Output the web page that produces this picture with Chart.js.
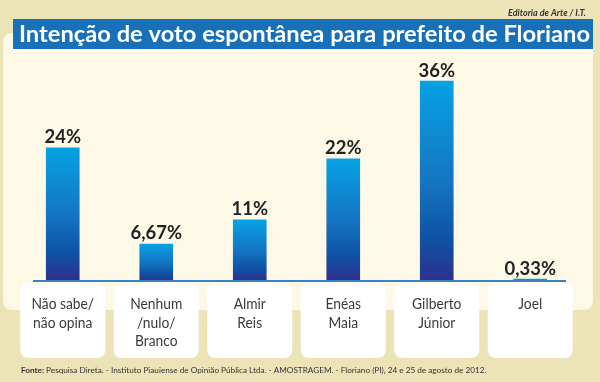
<!DOCTYPE html>
<html><head><meta charset="utf-8">
<script src="https://cdn.jsdelivr.net/npm/chart.js@4/dist/chart.umd.min.js"></script>
<style>html,body{margin:0;padding:0;background:#ece3b7;}canvas{display:block;}</style>
</head><body>
<canvas id="c" width="600" height="382"></canvas>
<script>
const categories = [["Não sabe/","não opina"],["Nenhum","/nulo/","Branco"],["Almir","Reis"],["Enéas","Maia"],["Gilberto","Júnior"],["Joel"]];
const values = [24, 6.67, 11, 22, 36, 0.33];
const valueLabels = ["24%","6,67%","11%","22%","36%","0,33%"];
const titleText = "Intenção de voto espontânea para prefeito de Floriano";
const bylineText = "Editoria de Arte / I.T.";
const sourceBold = "Fonte:";
const sourceText = " Pesquisa Direta. - Instituto Piauiense de Opinião Pública Ltda. - AMOSTRAGEM. - Floriano (PI), 24 e 25 de agosto de 2012.";

function rr(ctx,x,y,w,h,r){ctx.beginPath();ctx.moveTo(x+r,y);ctx.lineTo(x+w-r,y);ctx.quadraticCurveTo(x+w,y,x+w,y+r);ctx.lineTo(x+w,y+h-r);ctx.quadraticCurveTo(x+w,y+h,x+w-r,y+h);ctx.lineTo(x+r,y+h);ctx.quadraticCurveTo(x,y+h,x,y+h-r);ctx.lineTo(x,y+r);ctx.quadraticCurveTo(x,y,x+r,y);ctx.closePath();}
function condText(ctx,t,x,y,sx){ctx.save();ctx.translate(x,y);ctx.scale(sx,1);ctx.fillText(t,0,0);ctx.restore();}

const decor = {
  id:'decor',
  beforeDraw(chart){
    const ctx=chart.ctx, xs=chart.scales.x;
    ctx.save();
    ctx.fillStyle='#ece3b7';ctx.fillRect(0,0,600,382);
    ctx.fillStyle='#fdf9e6';rr(ctx,3,33,590,277,10);ctx.fill();
    ctx.fillStyle='#1770b8';ctx.fillRect(13,19,580,30);
    ctx.fillStyle='#ffffff';ctx.textBaseline='alphabetic';ctx.textAlign='left';
    ctx.font='bold 23.5px Lato';
    const tw=ctx.measureText(titleText).width;
    condText(ctx,titleText,19,41.5,571/tw);
    ctx.fillStyle='#333333';ctx.textAlign='right';
    ctx.font='italic bold 9px Lato';ctx.fillText(bylineText,586,16);
    categories.forEach((lines,i)=>{
      const cx=xs.getPixelForValue(i);
      ctx.fillStyle='#ffffff';rr(ctx,cx-42.5,283,85,75,9);ctx.fill();
      ctx.fillStyle='#3a3a3a';ctx.textAlign='center';ctx.font='15.5px Lato';
      lines.forEach((l,j)=>condText(ctx,l,cx,309+j*18.7,0.89));
    });
    ctx.textAlign='left';
    ctx.font='bold 8px Lato';const wb=ctx.measureText(sourceBold).width;
    ctx.font='8px Lato';const wr=ctx.measureText(sourceText).width;
    const fs=8*466/(wb+wr);
    ctx.fillStyle='#333333';
    ctx.font='bold '+fs+'px Lato';ctx.fillText(sourceBold,21,373);
    const w1=ctx.measureText(sourceBold).width;
    ctx.font=fs+'px Lato';ctx.fillText(sourceText,21+w1,373);
    ctx.restore();
  },
  afterDatasetsDraw(chart){
    const ctx=chart.ctx, xs=chart.scales.x, ys=chart.scales.y;
    ctx.save();
    const y0=ys.getPixelForValue(0);
    ctx.strokeStyle='#3a82c4';ctx.lineWidth=2;
    ctx.beginPath();ctx.moveTo(33,y0);ctx.lineTo(566,y0);ctx.stroke();
    ctx.fillStyle='#222222';ctx.textAlign='center';ctx.textBaseline='alphabetic';
    ctx.font='bold 19px Lato';
    values.forEach((v,i)=>{
      const x=xs.getPixelForValue(i), y=ys.getPixelForValue(v);
      condText(ctx,valueLabels[i],x,y-4.5,0.97);
    });
    ctx.restore();
  }
};

new Chart(document.getElementById('c'),{
  type:'bar',
  data:{labels:categories.map(l=>l.join(' ')),datasets:[{data:values,
    barThickness:33,
    backgroundColor(c){
      const ch=c.chart, ys=ch.scales.y;
      if(!ys||c.dataIndex===undefined) return '#1b75c8';
      const v=values[c.dataIndex];
      const top=ys.getPixelForValue(v), bot=ys.getPixelForValue(0);
      if(!isFinite(top)||!isFinite(bot)||top===bot) return '#1b75c8';
      const g=ch.ctx.createLinearGradient(0,top,0,bot);
      g.addColorStop(0,'#06a2e4');g.addColorStop(0.5,'#1575c3');g.addColorStop(0.8,'#0f51a3');g.addColorStop(1,'#2e308d');
      return g;
    }}]},
  options:{responsive:false,animation:false,devicePixelRatio:1,
    layout:{padding:{left:16,right:23,top:59,bottom:101}},
    plugins:{legend:{display:false},tooltip:{enabled:false},title:{display:false}},
    scales:{x:{display:false},y:{display:false,min:0,max:40}}},
  plugins:[decor]
});
</script>
</body></html>
